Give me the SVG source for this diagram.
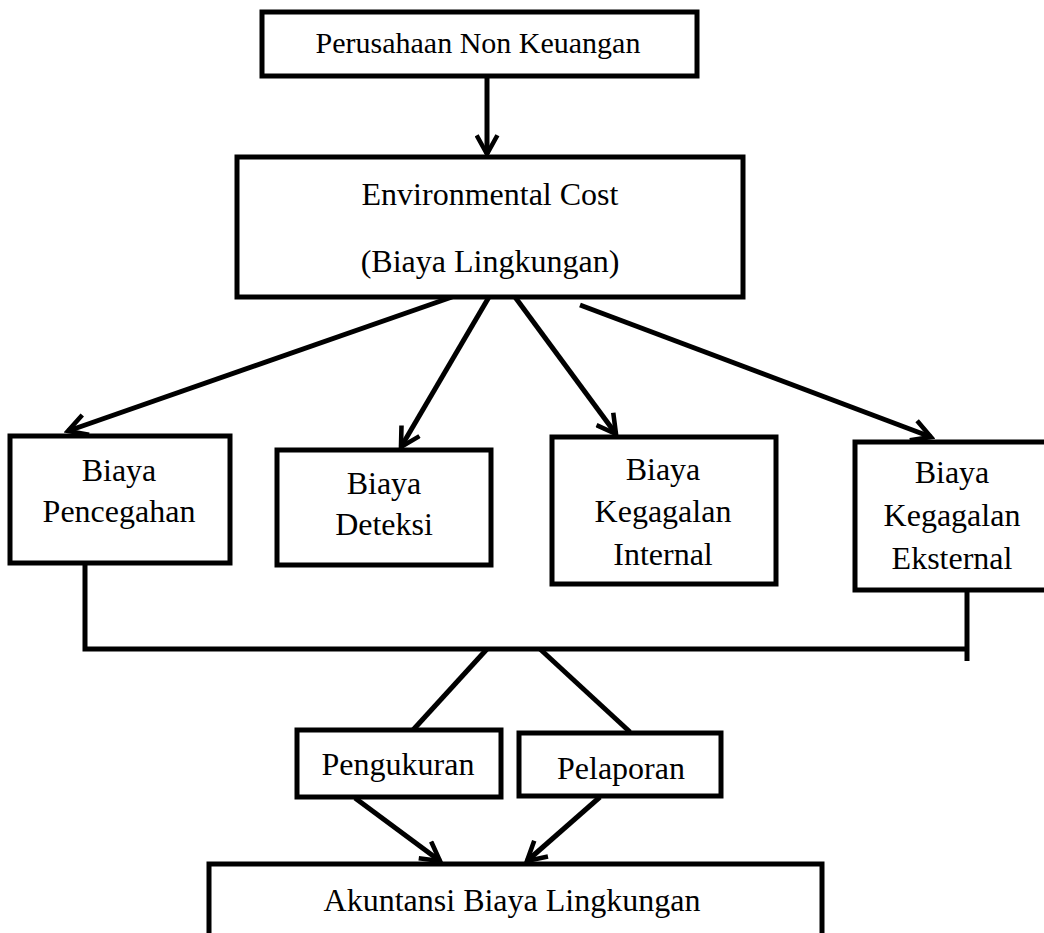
<svg xmlns="http://www.w3.org/2000/svg" width="1044" height="933" viewBox="0 0 1044 933">
<defs>
<marker id="arr" viewBox="0 0 12 12" refX="10" refY="6" markerWidth="5" markerHeight="5" markerUnits="strokeWidth" orient="auto">
<path d="M1,1 L10,6 L1,11" fill="none" stroke="#000" stroke-width="2.2" stroke-linejoin="miter"/>
</marker>
<style>
.box{fill:#fff;stroke:#000;stroke-width:5;}
.t{font-family:"Liberation Serif","Times New Roman",serif;font-size:32px;fill:#000;text-anchor:middle;}
.t30{font-size:30px;}
.c{stroke:#000;stroke-width:5;fill:none;}
.a{marker-end:url(#arr);}
</style>
</defs>
<rect width="1044" height="933" fill="#fff"/>
<g id="connectors">
<line class="c a" x1="487" y1="76" x2="487" y2="154"/>
<line class="c a" x1="452" y1="297" x2="68" y2="431"/>
<line class="c a" x1="489" y1="297" x2="401" y2="447"/>
<line class="c a" x1="515" y1="297" x2="616" y2="434"/>
<line class="c a" x1="580" y1="305" x2="931" y2="437"/>
<polyline class="c" points="85,563 85,649 968,649"/>
<line class="c" x1="967" y1="590" x2="967" y2="661"/>
<line class="c" x1="487" y1="649" x2="413" y2="730"/>
<line class="c" x1="540" y1="649" x2="630" y2="732"/>
<line class="c a" x1="355" y1="798" x2="440" y2="861"/>
<line class="c a" x1="600" y1="797" x2="527" y2="861"/>
</g>
<g id="n-perusahaan"><rect class="box" x="262" y="12" width="435" height="64"/><text class="t t30" x="478" y="53">Perusahaan Non Keuangan</text></g>
<g id="n-env"><rect class="box" x="237" y="157" width="506" height="140"/><text class="t" x="490" y="205">Environmental Cost</text><text class="t" x="490" y="272">(Biaya Lingkungan)</text></g>
<g id="n-pencegahan"><rect class="box" x="10" y="436" width="220" height="127"/><text class="t" x="119" y="481">Biaya</text><text class="t" x="119" y="522">Pencegahan</text></g>
<g id="n-deteksi"><rect class="box" x="277" y="450" width="214" height="115"/><text class="t" x="384" y="494">Biaya</text><text class="t" x="384" y="535">Deteksi</text></g>
<g id="n-internal"><rect class="box" x="552" y="437" width="224" height="147"/><text class="t" x="663" y="480">Biaya</text><text class="t" x="663" y="522">Kegagalan</text><text class="t" x="663" y="565">Internal</text></g>
<g id="n-eksternal"><rect class="box" x="855" y="442" width="200" height="148"/><text class="t" x="952" y="483">Biaya</text><text class="t" x="952" y="526">Kegagalan</text><text class="t" x="952" y="569">Eksternal</text></g>
<g id="n-pengukuran"><rect class="box" x="297" y="730" width="204" height="67"/><text class="t" x="398" y="775">Pengukuran</text></g>
<g id="n-pelaporan"><rect class="box" x="519" y="733" width="202" height="63"/><text class="t" x="621" y="779">Pelaporan</text></g>
<g id="n-akuntansi"><rect class="box" x="209" y="864" width="613" height="90"/><text class="t" x="512" y="911">Akuntansi Biaya Lingkungan</text></g>
</svg>
